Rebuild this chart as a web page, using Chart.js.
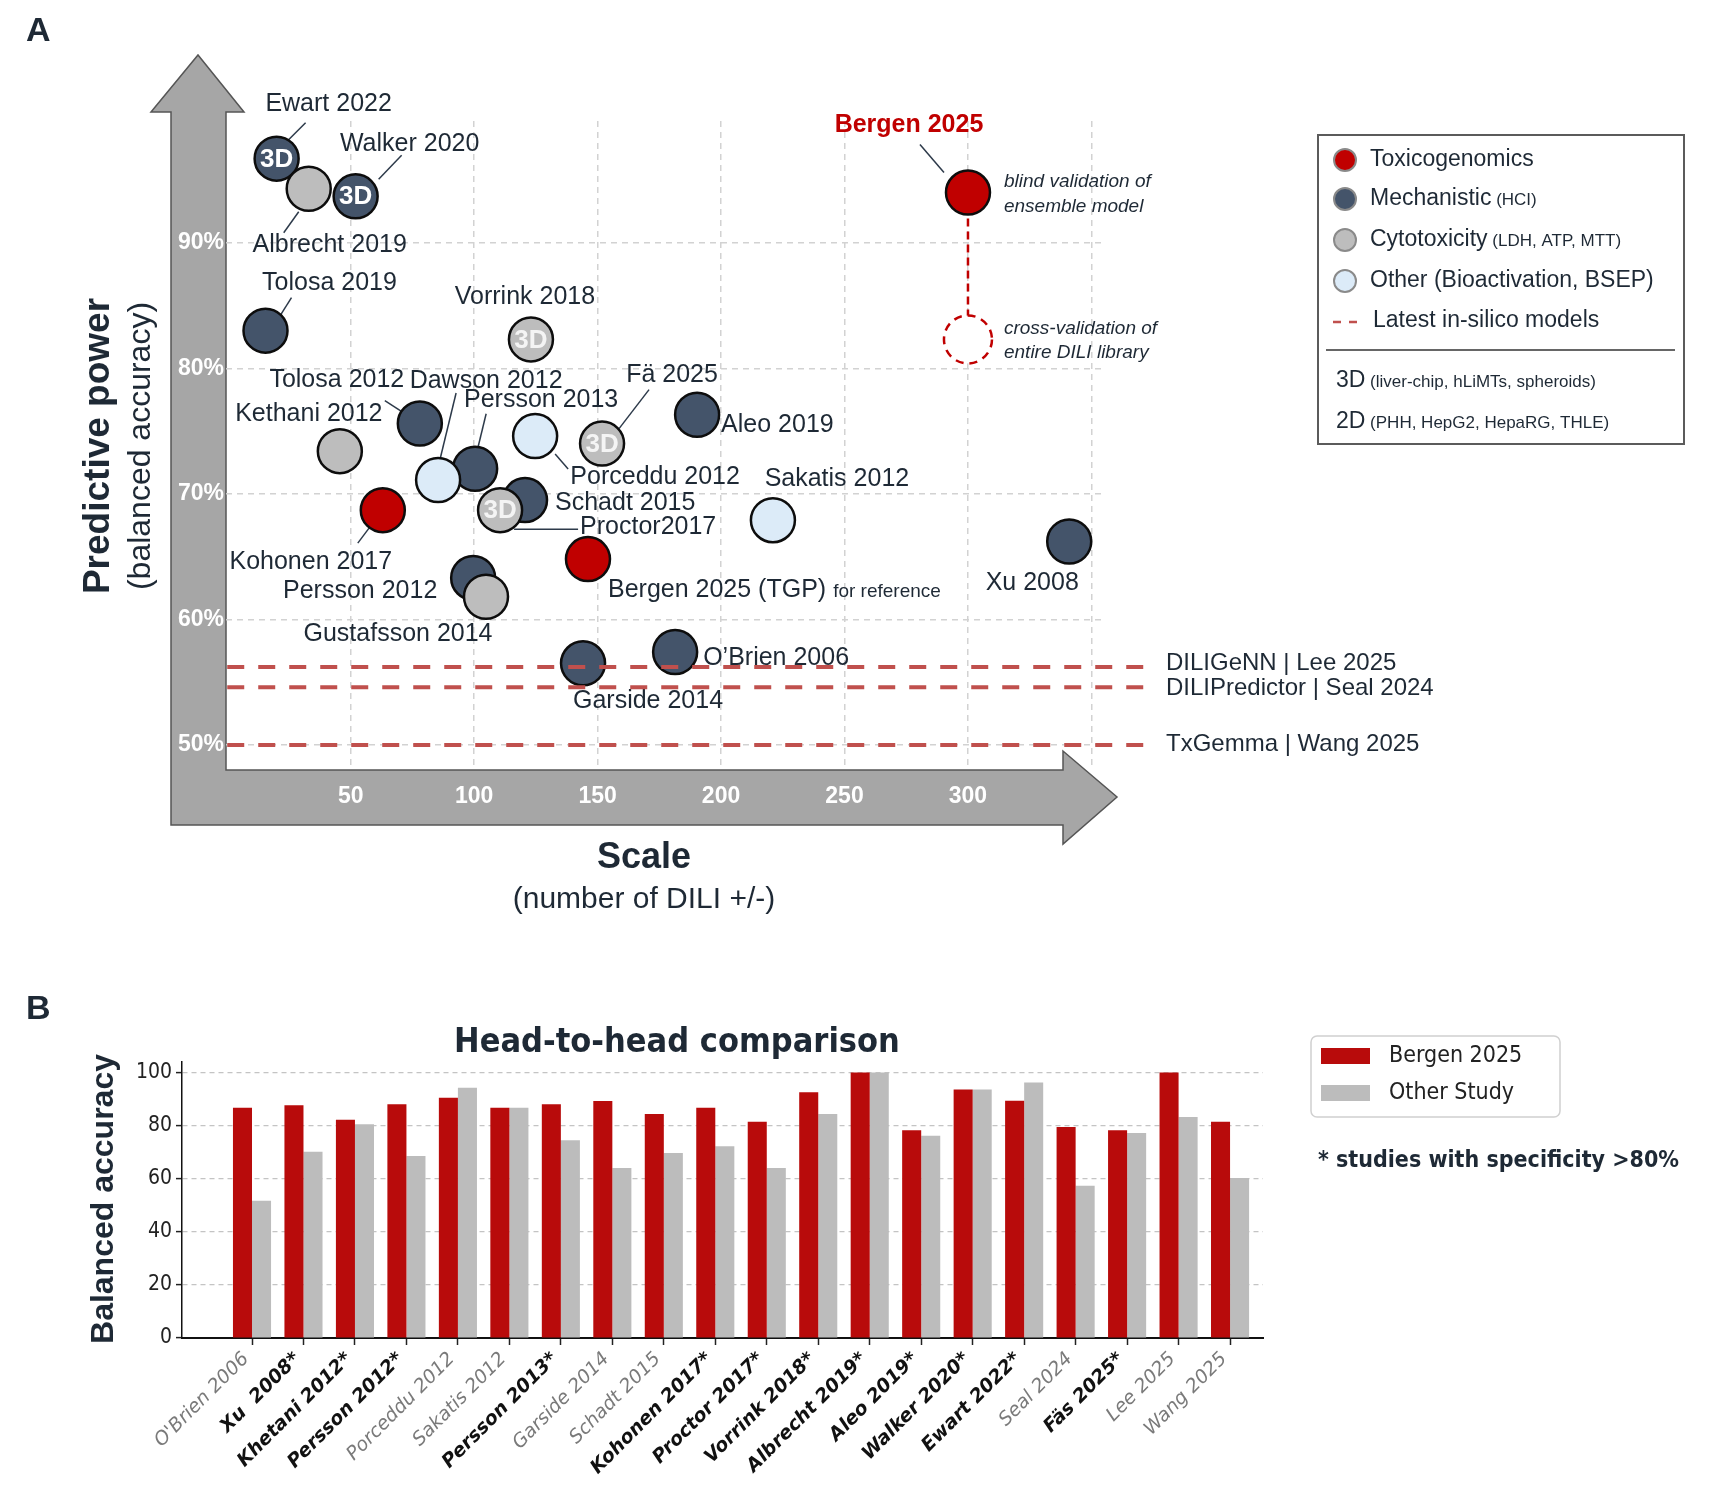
<!DOCTYPE html>
<html>
<head>
<meta charset="utf-8">
<title>DILI predictive power vs scale</title>
<script src="https://cdn.jsdelivr.net/npm/chart.js@4.4.1/dist/chart.umd.min.js"></script>
<style>
  body { margin: 0; background: #ffffff; }
  #page { position: relative; width: 1718px; height: 1496px; overflow: hidden; }
  #page canvas { position: absolute; left: 0; }
  #scaleChart { top: 0; }
  #h2hChart { top: 960px; }
</style>
</head>
<body>
<div id="page">
  <canvas id="scaleChart" width="1718" height="960"></canvas>
  <canvas id="h2hChart" width="1718" height="536"></canvas>
</div>
<script>
// ---- Panel A: predictive power vs scale ----
var studies = ['Ewart 2022', 'Albrecht 2019', 'Walker 2020', 'Tolosa 2019', 'Vorrink 2018', 'Tolosa 2012',
  'Kethani 2012', 'Persson 2013', 'Dawson 2012', 'Porceddu 2012', 'Fä 2025', 'Aleo 2019', 'Kohonen 2017',
  'Schadt 2015', 'Proctor2017', 'Sakatis 2012', 'Bergen 2025 (TGP)', 'Persson 2012', 'Gustafsson 2014',
  'Xu 2008', 'O’Brien 2006', 'Garside 2014', 'Bergen 2025'];
var diliCount = [20, 33, 52, 15.5, 123, 78, 45.6, 100.4, 85.4, 124.7, 151.8, 190.3, 63, 120.6, 110.5, 221, 146.1,
  99.6, 104.8, 341, 181.4, 144.1, 300];
var balancedAcc = [96.7, 94.3, 93.7, 83, 82.3, 75.6, 73.4, 72.0, 71.1, 74.6, 74, 76.3, 68.7, 69.5, 68.7, 67.9,
  64.8, 63.3, 61.8, 66.2, 57.4, 56.5, 94];
var assay = ['mech', 'cyto', 'mech', 'mech', 'cyto', 'mech', 'cyto', 'mech', 'other', 'other', 'cyto', 'mech',
  'tox', 'mech', 'cyto', 'other', 'tox', 'mech', 'cyto', 'mech', 'mech', 'mech', 'tox'];
var model3D = [true, false, true, false, true, false, false, false, false, false, true, false, false, false,
  true, false, false, false, false, false, false, false, false];
var crossValCount = 300;
var crossValAcc = 82.3;
var silicoModels = ['DILIGeNN | Lee 2025', 'DILIPredictor | Seal 2024', 'TxGemma | Wang 2025'];
var silicoAcc = [56.2, 54.6, 50];
var xTicksA = [50, 100, 150, 200, 250, 300, 350];
var yTicksA = [50, 60, 70, 80, 90];

// ---- Panel B: head-to-head comparison ----
var h2hStudies = ["O'Brien 2006", 'Xu  2008*', 'Khetani 2012*', 'Persson 2012*', 'Porceddu 2012', 'Sakatis 2012',
  'Persson 2013*', 'Garside 2014', 'Schadt 2015', 'Kohonen 2017*', 'Proctor 2017*', 'Vorrink 2018*',
  'Albrecht 2019*', 'Aleo 2019*', 'Walker 2020*', 'Ewart 2022*', 'Seal 2024', 'Fäs 2025*', 'Lee 2025', 'Wang 2025'];
var bergenAcc = [86.8, 87.7, 82.2, 88.1, 90.5, 86.8, 88.1, 89.3, 84.4, 86.8, 81.5, 92.6, 100, 78.3, 93.6, 89.4,
  79.5, 78.3, 100, 81.5];
var otherAcc = [51.7, 70.2, 80.5, 68.6, 94.3, 86.8, 74.5, 64.1, 69.7, 72.3, 64.1, 84.4, 100, 76.2, 93.6, 96.3,
  57.4, 77.2, 83.3, 60.3];
var yTicksB = [0, 20, 40, 60, 80, 100];

// styling
var SANS = "'Liberation Sans', Arial, Helvetica, sans-serif";
var COND = "'DejaVu Sans Condensed', 'Liberation Sans Narrow', 'DejaVu Sans', sans-serif";
var DJV = "'DejaVu Sans', sans-serif";
var INK = '#1e2935';
var assayFill = { tox: '#c00000', mech: '#44546a', cyto: '#bdbdbd', other: '#dcebf8' };
var assayNames = { tox: ['Toxicogenomics', ''], mech: ['Mechanistic', ' (HCI)'],
  cyto: ['Cytotoxicity', ' (LDH, ATP, MTT)'], other: ['Other (Bioactivation, BSEP)', ''] };
var silicoRed = '#c0504d';
var silicoTextShift = [-4, 1, -1];
var R = 22;

// where each study label sits: [dx, dy, align, leader x1, y1, x2, y2] (px from the point)
var labelSpots = [
  [52, -55, 'center', 29, -36, 9, -16],
  [21, 56, 'center', -25, 44, -10, 23],
  [54, -52, 'center', 46, -41, 23, -17],
  [64, -48, 'center', 26, -33, 14, -14],
  [-6, -42, 'center'],
  [-83, -43, 'center', -35, -23, -18, -12],
  [-31, -37, 'center'],
  [66, -69, 'center', 11, -55, 3, -22],
  [48, -99, 'center', 18, -87, 2, -21],
  [120, 41, 'center', 20, 18, 33, 33],
  [70, -69, 'center', 47, -54, 17, -15],
  [24, 10, 'left'],
  [-72, 52, 'center', -25, 33, -13, 17],
  [30, 3, 'left'],
  [80, 17, 'left', 78, 19, 14, 19],
  [64, -41, 'center'],
  [20, 31, 'left'],
  [-113, 13, 'center'],
  [-88, 37, 'center'],
  [-37, 42, 'center'],
  [28, 6, 'left'],
  [65, 38, 'center'],
  [-59, -67, 'center', -48, -48, -24, -20]
];

function dot(ctx, x, y, r, fill, stroke, lw) {
  ctx.beginPath();
  ctx.arc(x, y, r, 0, Math.PI * 2);
  ctx.fillStyle = fill;
  ctx.fill();
  ctx.lineWidth = lw;
  ctx.strokeStyle = stroke;
  ctx.stroke();
}

// text with an optional smaller tail, e.g. "Mechanistic (HCI)"
function twoPart(ctx, x, y, big, small, bigSize, smallSize) {
  ctx.textAlign = 'left';
  ctx.font = bigSize + 'px ' + SANS;
  ctx.fillText(big, x, y);
  if (small) {
    var w = ctx.measureText(big).width;
    ctx.font = smallSize + 'px ' + SANS;
    ctx.fillText(small, x + w, y + 1);
  }
}

var panelA = {
  id: 'panelA',
  beforeDraw: function(chart) {
    var ctx = chart.ctx, a = chart.chartArea;
    var L = a.left, B = a.bottom;
    ctx.save();
    // grey axis arrows
    ctx.beginPath();
    ctx.moveTo(L - 55, B + 55);
    ctx.lineTo(L - 55, 112);
    ctx.lineTo(L - 75, 112);
    ctx.lineTo(L - 28, 55);
    ctx.lineTo(L + 18, 112);
    ctx.lineTo(L, 112);
    ctx.lineTo(L, B);
    ctx.lineTo(1063, B);
    ctx.lineTo(1063, B - 19);
    ctx.lineTo(1117, B + 27);
    ctx.lineTo(1063, B + 74);
    ctx.lineTo(1063, B + 55);
    ctx.closePath();
    ctx.fillStyle = '#a6a6a6';
    ctx.fill();
    ctx.strokeStyle = '#555';
    ctx.lineWidth = 1.5;
    ctx.stroke();

    ctx.fillStyle = INK;
    ctx.textBaseline = 'middle';
    ctx.textAlign = 'left';
    ctx.font = 'bold 34px ' + SANS;
    ctx.fillText('A', 26, 32);

    // axis titles
    ctx.textAlign = 'center';
    ctx.save();
    ctx.translate(99, 446);
    ctx.rotate(-Math.PI / 2);
    ctx.font = 'bold 37px ' + SANS;
    ctx.fillText('Predictive power', 0, 0);
    ctx.restore();
    ctx.save();
    ctx.translate(141, 446);
    ctx.rotate(-Math.PI / 2);
    ctx.font = '32px ' + SANS;
    ctx.fillText('(balanced accuracy)', 0, 0);
    ctx.restore();
    ctx.font = 'bold 36px ' + SANS;
    ctx.fillText('Scale', 644, 858);
    ctx.font = '30px ' + SANS;
    ctx.fillText('(number of DILI +/-)', 644, 900);
    ctx.restore();
  },
  beforeDatasetsDraw: function(chart) {
    var ctx = chart.ctx, xs = chart.scales.x, ys = chart.scales.y;
    ctx.save();
    ctx.textBaseline = 'middle';
    for (var i = 0; i < studies.length; i++) {
      var px = xs.getPixelForValue(diliCount[i]);
      var py = ys.getPixelForValue(balancedAcc[i]);
      var s = labelSpots[i];
      if (s.length > 3) {
        ctx.beginPath();
        ctx.moveTo(px + s[3], py + s[4]);
        ctx.lineTo(px + s[5], py + s[6]);
        ctx.strokeStyle = '#2d3a4a';
        ctx.lineWidth = 1.5;
        ctx.stroke();
      }
      ctx.textAlign = s[2];
      if (i === studies.length - 1) {
        ctx.fillStyle = '#c00000';
        ctx.font = 'bold 25px ' + SANS;
      } else {
        ctx.fillStyle = INK;
        ctx.font = '25px ' + SANS;
      }
      ctx.fillText(studies[i], px + s[0], py + s[1]);
      if (studies[i] === 'Bergen 2025 (TGP)') {
        var w = ctx.measureText(studies[i]).width;
        ctx.font = '19px ' + SANS;
        ctx.fillText('for reference', px + s[0] + w + 7, py + s[1] + 2);
      }
    }
    // notes next to the Bergen ensemble results
    var bx = xs.getPixelForValue(diliCount[studies.length - 1]);
    var by = ys.getPixelForValue(balancedAcc[studies.length - 1]);
    var cy = ys.getPixelForValue(crossValAcc);
    ctx.textAlign = 'left';
    ctx.fillStyle = INK;
    ctx.font = 'italic 19px ' + SANS;
    ctx.fillText('blind validation of', bx + 36, by - 11);
    ctx.fillText('ensemble model', bx + 36, by + 14);
    ctx.fillText('cross-validation of', bx + 36, cy - 11);
    ctx.fillText('entire DILI library', bx + 36, cy + 13);

    // in-silico model names at the end of their lines
    ctx.font = '24px ' + SANS;
    for (var k = 0; k < silicoModels.length; k++) {
      ctx.fillText(silicoModels[k], 1166, ys.getPixelForValue(silicoAcc[k]) + silicoTextShift[k]);
    }
    ctx.restore();
  },
  afterDatasetsDraw: function(chart) {
    var ctx = chart.ctx, xs = chart.scales.x, ys = chart.scales.y;
    ctx.save();
    // dashed circle for the cross-validation result
    var cx = xs.getPixelForValue(crossValCount), cy = ys.getPixelForValue(crossValAcc);
    ctx.setLineDash([8, 6]);
    dot(ctx, cx, cy, R + 2, '#ffffff', '#c00000', 2.5);
    ctx.setLineDash([]);
    // 3D badges
    ctx.textAlign = 'center';
    ctx.textBaseline = 'middle';
    ctx.font = 'bold 26px ' + SANS;
    for (var i = 0; i < studies.length; i++) {
      if (!model3D[i]) continue;
      ctx.fillStyle = assay[i] === 'cyto' ? '#f4f4f4' : '#ffffff';
      ctx.fillText('3D', xs.getPixelForValue(diliCount[i]), ys.getPixelForValue(balancedAcc[i]) + 1);
    }
    ctx.restore();
  },
  afterDraw: function(chart) {
    var ctx = chart.ctx;
    ctx.save();
    ctx.strokeStyle = '#5b5b5b';
    ctx.lineWidth = 2;
    ctx.strokeRect(1318, 135, 366, 309);
    ctx.textBaseline = 'middle';
    var rows = ['tox', 'mech', 'cyto', 'other'];
    var rowY = [160, 199, 240, 281];
    for (var i = 0; i < rows.length; i++) {
      dot(ctx, 1345, rowY[i], 11, assayFill[rows[i]], '#8a8a8a', 2);
      ctx.fillStyle = INK;
      twoPart(ctx, 1370, rowY[i], assayNames[rows[i]][0], assayNames[rows[i]][1], 23, 17);
    }
    ctx.strokeStyle = silicoRed;
    ctx.lineWidth = 2.5;
    ctx.beginPath();
    ctx.moveTo(1333, 322); ctx.lineTo(1341, 322);
    ctx.moveTo(1349, 322); ctx.lineTo(1357, 322);
    ctx.stroke();
    ctx.fillStyle = INK;
    twoPart(ctx, 1373, 321, 'Latest in-silico models', '', 23, 17);
    ctx.strokeStyle = '#333';
    ctx.lineWidth = 1.5;
    ctx.beginPath();
    ctx.moveTo(1326, 350); ctx.lineTo(1675, 350);
    ctx.stroke();
    twoPart(ctx, 1336, 381, '3D', ' (liver-chip, hLiMTs, spheroids)', 23, 17);
    twoPart(ctx, 1336, 422, '2D', ' (PHH, HepG2, HepaRG, THLE)', 23, 17);
    ctx.restore();
  }
};

var silicoSets = silicoAcc.map(function(v) {
  return {
    data: [{ x: 0, y: v }, { x: 372, y: v }],
    showLine: true, pointRadius: 0, borderColor: silicoRed, borderWidth: 4,
    borderDash: [17, 14], clip: false, order: 0
  };
});

new Chart(document.getElementById('scaleChart'), {
  type: 'scatter',
  data: {
    datasets: silicoSets.concat([
      {
        data: studies.map(function(s, i) { return { x: diliCount[i], y: balancedAcc[i] }; }),
        pointRadius: R,
        pointBackgroundColor: assay.map(function(a) { return assayFill[a]; }),
        pointBorderColor: '#0d0d0d',
        pointBorderWidth: 2.5,
        order: 1
      },
      {
        data: [{ x: crossValCount, y: balancedAcc[studies.length - 1] }, { x: crossValCount, y: crossValAcc }],
        showLine: true, pointRadius: 0, borderColor: '#c00000', borderWidth: 2.5,
        borderDash: [8, 5], order: 2
      }
    ])
  },
  options: {
    responsive: false,
    animation: false,
    devicePixelRatio: 1,
    events: [],
    layout: { padding: { left: 166, right: 612, top: 121, bottom: 130 } },
    plugins: { legend: { display: false }, tooltip: { enabled: false } },
    scales: {
      x: {
        type: 'linear', min: -0.5, max: 355.9,
        afterBuildTicks: function(s) { s.ticks = xTicksA.map(function(v) { return { value: v }; }); },
        afterFit: function(s) { s.height = 60; },
        grid: { color: '#d2d2d2', lineWidth: 1.5, drawTicks: false },
        border: { display: false, dash: [6, 5] },
        ticks: {
          color: '#ffffff', padding: 13, font: { family: SANS, size: 23, weight: 'bold' },
          callback: function(v) { return v === 350 ? '' : v; }
        }
      },
      y: {
        min: 48, max: 99.7,
        afterBuildTicks: function(s) { s.ticks = yTicksA.map(function(v) { return { value: v }; }); },
        afterFit: function(s) { s.width = 60; },
        grid: { color: '#d2d2d2', lineWidth: 1.5, drawTicks: false },
        border: { display: false, dash: [6, 5] },
        ticks: {
          color: '#ffffff', padding: 2, font: { family: SANS, size: 23, weight: 'bold' },
          callback: function(v) { return v + '%'; }
        }
      }
    }
  },
  plugins: [panelA]
});

// ---- Panel B chart ----
function isStarred(i) { return h2hStudies[i] && h2hStudies[i].indexOf('*') >= 0; }

var panelB = {
  id: 'panelB',
  afterDraw: function(chart) {
    var ctx = chart.ctx;
    ctx.save();
    ctx.textBaseline = 'middle';
    ctx.fillStyle = INK;
    ctx.textAlign = 'left';
    ctx.font = 'bold 34px ' + SANS;
    ctx.fillText('B', 26, 50);
    ctx.textAlign = 'center';
    ctx.font = 'bold 34px ' + COND;
    ctx.fillText('Head-to-head comparison', 677, 83);
    ctx.save();
    ctx.translate(104, 239);
    ctx.rotate(-Math.PI / 2);
    ctx.font = 'bold 32px ' + SANS;
    ctx.fillText('Balanced accuracy', 0, 0);
    ctx.restore();

    // legend
    ctx.beginPath();
    if (ctx.roundRect) ctx.roundRect(1311, 76, 249, 81, 6); else ctx.rect(1311, 76, 249, 81);
    ctx.strokeStyle = '#d0d0d0';
    ctx.lineWidth = 1.5;
    ctx.fillStyle = '#ffffff';
    ctx.fill();
    ctx.stroke();
    var sets = chart.data.datasets;
    var ly = [96, 133];
    for (var i = 0; i < sets.length; i++) {
      ctx.fillStyle = sets[i].backgroundColor;
      ctx.fillRect(1321, ly[i] - 8, 49, 16);
      ctx.fillStyle = '#222';
      ctx.textAlign = 'left';
      ctx.font = '23px ' + COND;
      ctx.fillText(sets[i].label, 1389, ly[i]);
    }
    ctx.fillStyle = INK;
    ctx.font = 'bold 23px ' + COND;
    ctx.fillText('* studies with specificity >80%', 1318, 201);
    ctx.restore();
  }
};

new Chart(document.getElementById('h2hChart'), {
  type: 'bar',
  data: {
    datasets: [
      { label: 'Bergen 2025', data: bergenAcc.map(function(v, i) { return { x: i, y: v }; }),
        backgroundColor: '#b80b0b', barPercentage: 1, categoryPercentage: 0.74 },
      { label: 'Other Study', data: otherAcc.map(function(v, i) { return { x: i, y: v }; }),
        backgroundColor: '#bcbcbc', barPercentage: 1, categoryPercentage: 0.74 }
    ]
  },
  options: {
    responsive: false,
    animation: false,
    devicePixelRatio: 1,
    events: [],
    layout: { padding: { left: 122, right: 455, top: 102, bottom: 6 } },
    plugins: { legend: { display: false }, tooltip: { enabled: false } },
    scales: {
      x: {
        type: 'linear', min: -1.36, max: 19.64, offset: false,
        afterBuildTicks: function(s) { s.ticks = h2hStudies.map(function(l, i) { return { value: i }; }); },
        afterFit: function(s) { s.height = 152; },
        grid: { offset: false, drawOnChartArea: false, drawTicks: true, tickLength: 7, tickColor: '#222', tickWidth: 1.5 },
        border: { display: true, color: '#111', width: 2 },
        ticks: {
          autoSkip: false, maxRotation: 45, minRotation: 45, padding: 3, labelOffset: -6,
          callback: function(v) { return h2hStudies[v]; },
          font: function(c) {
            return isStarred(c.index) ? { family: DJV, size: 19, style: 'italic', weight: 'bold' }
                                      : { family: DJV, size: 19, style: 'italic', weight: 'normal' };
          },
          color: function(c) { return isStarred(c.index) ? '#111' : '#7a7a7a'; }
        }
      },
      y: {
        min: 0, max: 104,
        afterBuildTicks: function(s) { s.ticks = yTicksB.map(function(v) { return { value: v }; }); },
        afterFit: function(s) { s.width = 60; },
        grid: {
          color: function(c) { return c.tick && c.tick.value === 0 ? 'rgba(0,0,0,0)' : '#c4c4c4'; },
          lineWidth: 1.2, drawTicks: true, tickLength: 6, tickColor: '#222', tickWidth: 1.5
        },
        border: { display: true, color: '#111', width: 1.5, dash: [5, 4] },
        ticks: { color: '#222', padding: 4, font: { family: COND, size: 21 } }
      }
    }
  },
  plugins: [panelB]
});
</script>
</body>
</html>
